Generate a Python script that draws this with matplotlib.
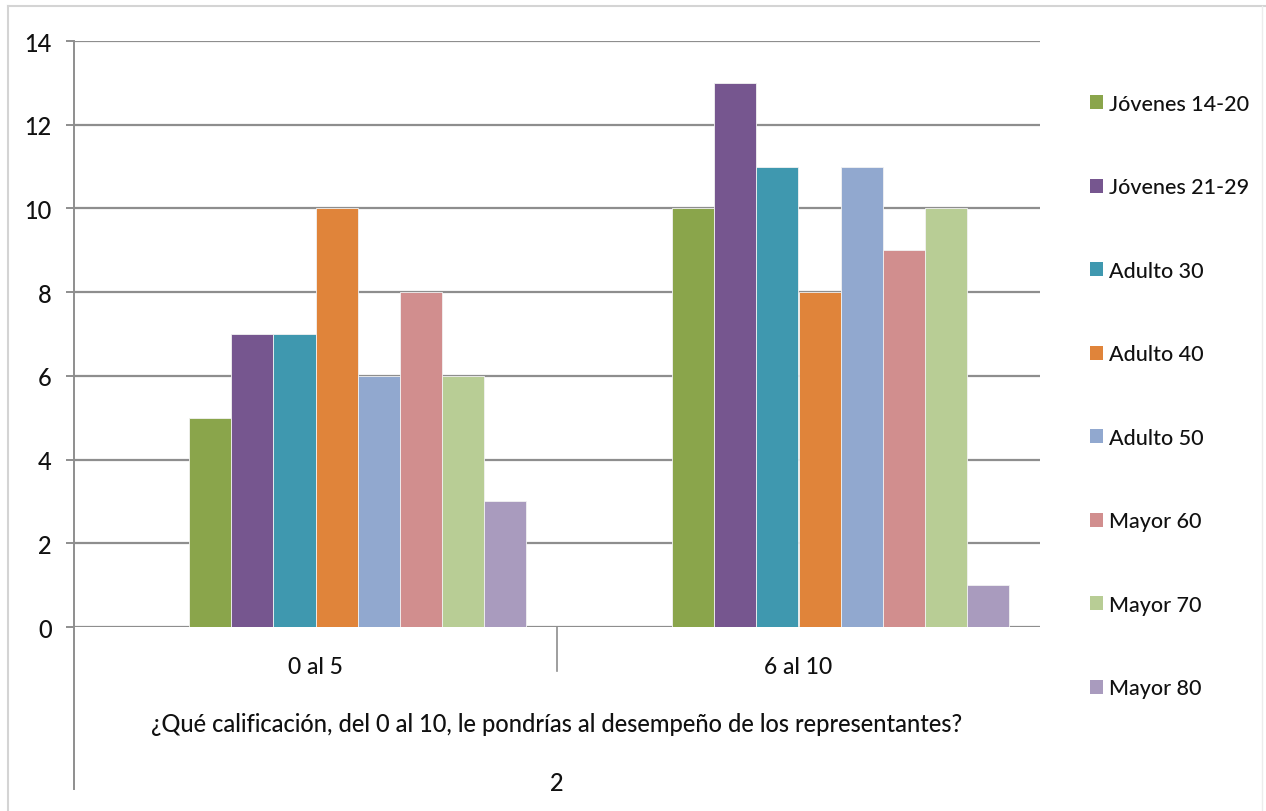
import matplotlib
matplotlib.use("Agg")
import matplotlib.pyplot as plt
from matplotlib.lines import Line2D
from matplotlib.patches import Patch

plt.rcParams['font.family'] = ['Lato', 'DejaVu Sans']
plt.rcParams['font.weight'] = 'medium'

categories = ["0 al 5", "6 al 10"]
series = ["Jóvenes 14-20", "Jóvenes 21-29", "Adulto 30", "Adulto 40",
          "Adulto 50", "Mayor 60", "Mayor 70", "Mayor 80"]
values = {
    "Jóvenes 14-20": [5, 10],
    "Jóvenes 21-29": [7, 13],
    "Adulto 30": [7, 11],
    "Adulto 40": [10, 8],
    "Adulto 50": [6, 11],
    "Mayor 60": [8, 9],
    "Mayor 70": [6, 10],
    "Mayor 80": [3, 1],
}
colors = ["#8aa54b", "#76568f", "#3f98af", "#e0843a",
          "#91a8cf", "#d18e8e", "#b8cd95", "#a99bbe"]
group_label = "¿Qué calificación, del 0 al 10, le pondrías al desempeño de los representantes?"
outer_label = "2"
yticks = [0, 2, 4, 6, 8, 10, 12, 14]

W, H = 1266, 812
fig = plt.figure(figsize=(W / 100, H / 100), dpi=100)
fig.patch.set_facecolor("white")

# frame around the chart area
border = "#d4d4d4"
fig.add_artist(Line2D([8 / W, 8 / W], [0, 1 - 7 / H], color=border, lw=1.5))
fig.add_artist(Line2D([8 / W, 1], [1 - 7 / H, 1 - 7 / H], color=border, lw=1.5))
fig.add_artist(Line2D([1262 / W, 1262 / W], [0, 1 - 7 / H], color="#ececec", lw=1.0))

x0, x1 = 74, 1040
y0, y1 = 628, 42
ax = fig.add_axes([x0 / W, 1 - y0 / H, (x1 - x0) / W, (y0 - y1) / H])

grid_c = "#8e8e8e"
text_c = "#111111"
bw = 0.087
for j, (name, col) in enumerate(zip(series, colors)):
    xs = [i + 0.5 + (j - 2.5) * bw for i in range(len(categories))]
    ax.bar(xs, values[name], width=bw, color=col, edgecolor="#f2f2f2",
           linewidth=0.6, zorder=3, label=name)

ax.set_xlim(0, 2)
ax.set_ylim(0, 14)
ax.set_yticks(yticks)
ax.set_yticklabels([str(t) for t in yticks], fontsize=17, color=text_c)
ax.tick_params(axis="y", length=6, width=1.4, color=grid_c, pad=10)
ax.set_xticks([])
for t in yticks:
    ax.axhline(t, color=grid_c, lw=1.6, zorder=1)
for s in ax.spines.values():
    s.set_visible(False)

# vertical axis line running down through the category levels
ax.add_artist(Line2D([0, 0], [1.0, -0.2765], transform=ax.transAxes,
                     color=grid_c, lw=1.4, clip_on=False))
# divider between the two categories
ax.add_artist(Line2D([0.5, 0.5], [0, -0.075], transform=ax.transAxes,
                     color=grid_c, lw=1.2, clip_on=False))

for i, c in enumerate(categories):
    ax.text((i + 0.5) / 2, -0.068, c, transform=ax.transAxes, ha="center",
            va="center", fontsize=16.5, color=text_c)
ax.text(0.5, -0.165, group_label, transform=ax.transAxes, ha="center",
        va="center", fontsize=17, color=text_c)
ax.text(0.5, -0.266, outer_label, transform=ax.transAxes, ha="center",
        va="center", fontsize=17, color=text_c)

handles = [Patch(facecolor=c, edgecolor="none") for c in colors]
fig.legend(handles, series, loc="upper left",
           bbox_to_anchor=(1081 / W, 1 - 86 / H), frameon=False,
           fontsize=15.5, labelspacing=2.95, handlelength=0.62,
           handleheight=0.62, handletextpad=0.3, borderaxespad=0,
           labelcolor=text_c)

fig.savefig("out.png", dpi=100, facecolor="white")
